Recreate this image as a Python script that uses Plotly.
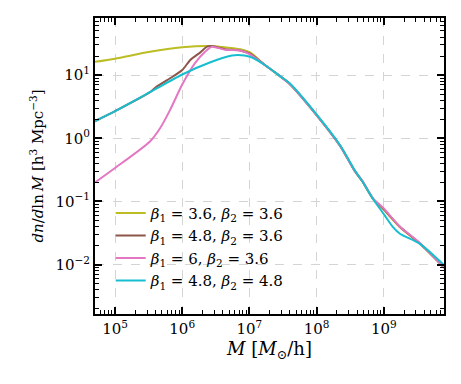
import plotly.graph_objects as go

# log10(M) and log10(dn/dlnM)
logM_olive = [4.70, 5.00, 5.52, 6.00, 6.41, 6.64, 6.86, 7.01, 7.23, 7.46, 7.60, 7.99, 8.35, 8.57, 8.68, 8.84, 8.99, 9.24, 9.54, 9.90]
logy_olive = [1.21, 1.26, 1.37, 1.44, 1.46, 1.44, 1.41, 1.36, 1.16, 0.98, 0.86, 0.38, -0.12, -0.52, -0.68, -0.96, -1.12, -1.41, -1.67, -2.05]

logM_brown = [4.70, 5.00, 5.52, 5.62, 5.82, 6.00, 6.12, 6.27, 6.37, 6.44, 6.64, 6.86, 7.01, 7.23, 7.46, 7.60, 7.99, 8.35, 8.57, 8.68, 8.84, 8.99, 9.24, 9.54, 9.90]
logy_brown = [0.27, 0.43, 0.73, 0.82, 0.95, 1.08, 1.24, 1.36, 1.45, 1.46, 1.41, 1.39, 1.34, 1.16, 0.98, 0.86, 0.38, -0.12, -0.52, -0.68, -0.96, -1.11, -1.40, -1.67, -2.05]

logM_pink = [4.70, 5.00, 5.52, 5.67, 5.82, 6.00, 6.19, 6.34, 6.44, 6.64, 6.86, 7.01, 7.23, 7.46, 7.60, 7.99, 8.35, 8.57, 8.68, 8.84, 8.99, 9.24, 9.54, 9.90]
logy_pink = [-0.70, -0.47, -0.05, 0.16, 0.45, 0.85, 1.19, 1.37, 1.45, 1.40, 1.39, 1.33, 1.16, 0.98, 0.86, 0.38, -0.12, -0.52, -0.67, -0.95, -1.10, -1.40, -1.66, -2.05]

logM_cyan = [4.70, 5.00, 5.52, 6.00, 6.41, 6.74, 6.83, 7.01, 7.23, 7.46, 7.60, 7.99, 8.35, 8.57, 8.68, 8.84, 9.00, 9.14, 9.24, 9.54, 9.90]
logy_cyan = [0.27, 0.43, 0.73, 1.01, 1.20, 1.31, 1.32, 1.29, 1.16, 0.98, 0.87, 0.39, -0.11, -0.51, -0.68, -0.96, -1.20, -1.41, -1.51, -1.67, -2.01]

names = [
    "<i>β</i><sub>1</sub> = 3.6, <i>β</i><sub>2</sub> = 3.6",
    "<i>β</i><sub>1</sub> = 4.8, <i>β</i><sub>2</sub> = 3.6",
    "<i>β</i><sub>1</sub> = 6, <i>β</i><sub>2</sub> = 3.6",
    "<i>β</i><sub>1</sub> = 4.8, <i>β</i><sub>2</sub> = 4.8",
]
colors = ["#bcbd22", "#8c564b", "#e377c2", "#17becf"]

x_major = [5, 6, 7, 8, 9]
y_major = [-2, -1, 0, 1]
x_range = [4.702, 9.896]
y_range = [-2.781, 1.904]

series = [(logM_olive, logy_olive), (logM_brown, logy_brown), (logM_pink, logy_pink), (logM_cyan, logy_cyan)]

SERIF = "DejaVu Serif"

fig = go.Figure()
for (lx, ly), name, c in zip(series, names, colors):
    fig.add_trace(go.Scatter(
        x=[10 ** v for v in lx], y=[10 ** v for v in ly],
        mode="lines", name=name, line=dict(color=c, width=2, shape="spline", smoothing=0.7)))

# invisible trace so the overlay axes (minor ticks) get drawn
fig.add_trace(go.Scatter(x=[10 ** 6], y=[1], xaxis="x2", yaxis="y2", mode="markers",
                         marker=dict(opacity=0), showlegend=False, hoverinfo="skip"))

def minor_vals(lo, hi):
    return [m * 10 ** k for k in range(lo, hi) for m in range(2, 10)]

major_common = dict(
    type="log", showline=True, linecolor="black", linewidth=2, mirror="allticks",
    ticks="inside", ticklen=7, tickwidth=1.5, tickcolor="black",
    showgrid=True, gridcolor="#d4d4d4", griddash="dash", gridwidth=0.8,
    zeroline=False,
    tickfont=dict(family=SERIF, size=15, color="black"),
)
minor_common = dict(
    type="log", showline=False, mirror="allticks",
    ticks="inside", ticklen=4, tickwidth=1, tickcolor="black",
    showgrid=False, zeroline=False, showticklabels=False,
)

fig.update_layout(
    xaxis=dict(
        range=x_range,
        tickvals=[10 ** v for v in x_major],
        ticktext=["10<sup>%d</sup>" % v for v in x_major],
        title=dict(text="<i>M</i> [<i>M</i><sub>⊙</sub>/h]", font=dict(family=SERIF, size=18), standoff=4),
        **major_common),
    yaxis=dict(
        range=y_range,
        tickvals=[10 ** v for v in y_major],
        ticktext=["10<sup>%d</sup>" % v if v >= 0 else "10<sup>−%d</sup>" % (-v) for v in y_major],
        title=dict(text="<i>dn</i>/<i>d</i>ln\u2009<i>M</i> [h<sup>3</sup> Mpc<sup>−3</sup>]",
                   font=dict(family=SERIF, size=15), standoff=8),
        **major_common),
    xaxis2=dict(overlaying="x", anchor="y2", side="bottom", range=x_range,
                tickvals=minor_vals(4, 10), **minor_common),
    yaxis2=dict(overlaying="y", anchor="x2", side="left", range=y_range,
                tickvals=minor_vals(-3, 2), **minor_common),
)

# page body adds an 8px offset, so margins are shifted left/up by 8
fig.update_layout(
    width=461, height=384,
    margin=dict(l=87, r=25, t=8, b=78),
    paper_bgcolor="white", plot_bgcolor="white",
    font=dict(family=SERIF, size=15, color="black"),
    legend=dict(x=0.045, y=0.396, xanchor="left", yanchor="top",
                bgcolor="rgba(0,0,0,0)", font=dict(size=15, family=SERIF)),
)

fig.write_html("out.html")
